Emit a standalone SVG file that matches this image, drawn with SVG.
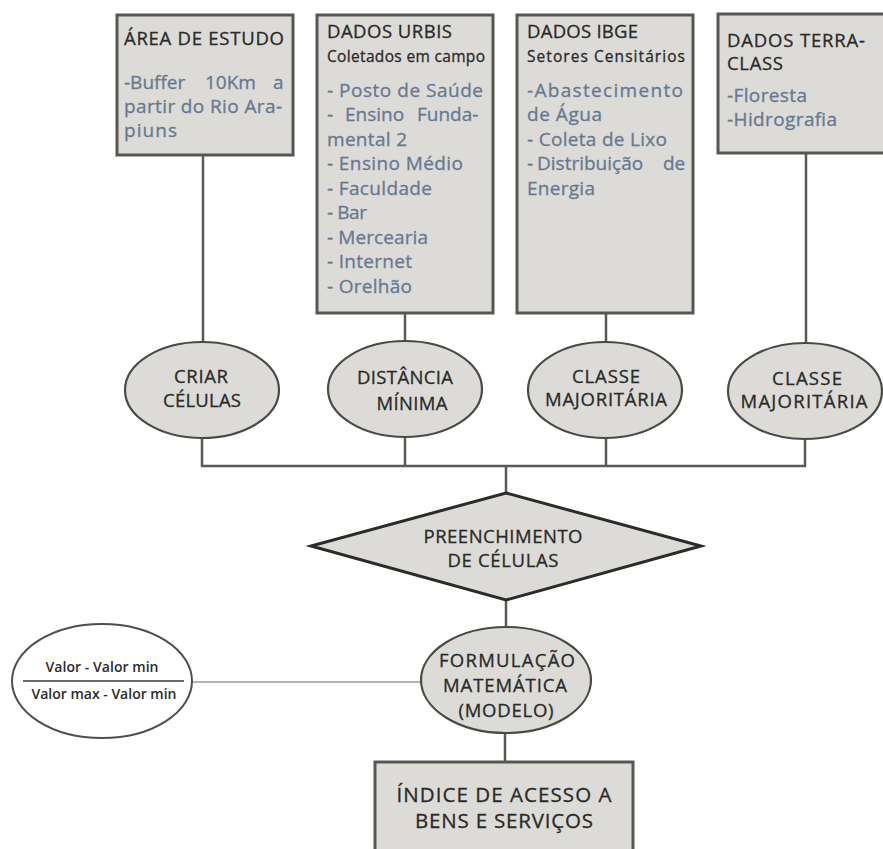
<svg xmlns="http://www.w3.org/2000/svg" width="883" height="849" viewBox="0 0 883 849">
<style>
.box{fill:#dcdbd7;stroke:#575752;stroke-width:3}
.ell{fill:#dcdbd7;stroke:#4a4a45;stroke-width:2.2}
.conn{stroke:#5a5a55;stroke-width:2.5;fill:none}
.thin{stroke:#9a9a98;stroke-width:1.5;fill:none}
.t{font-family:"Open Sans","Liberation Sans",sans-serif;fill:#2a2a28;stroke:#2a2a28;stroke-width:0.3}
.title{font-size:18.5px}
.sub{font-size:15.5px}
.item{font-size:19px;fill:#687891;stroke:#687891;stroke-width:0.3}
.node{font-size:18.5px}
.c{text-anchor:middle}
.frac{font-size:14px;font-weight:600;fill:#2a2a2a;stroke:none}
</style>
<rect width="883" height="849" fill="#ffffff"/>
<g id="connectors">
<path class="conn" d="M203 155V342"/>
<path class="conn" d="M405 313V341"/>
<path class="conn" d="M606 313V342"/>
<path class="conn" d="M806 153V343"/>
<path class="conn" d="M202 438V466H805V440"/>
<path class="conn" d="M405 437V466"/>
<path class="conn" d="M606 438V466"/>
<path class="conn" d="M506 466V493"/>
<path class="conn" d="M506 600V627"/>
<path class="conn" d="M505 733V762"/>
<path class="thin" d="M193 682H421"/>
</g>
<g id="area-estudo">
<rect class="box" x="117" y="15" width="176" height="140"/>
<text class="t title" x="124" y="45" textLength="160">ÁREA DE ESTUDO</text>
<text class="t item" y="89"><tspan x="124">-Buffer</tspan><tspan x="205">10Km</tspan><tspan x="273">a</tspan></text>
<text class="t item" x="124" y="113" textLength="158">partir do Rio Ara-</text>
<text class="t item" x="124" y="137" textLength="53">piuns</text>
</g>
<g id="dados-urbis">
<rect class="box" x="317" y="15" width="176" height="298"/>
<text class="t title" x="327" y="38" textLength="125">DADOS URBIS</text>
<text class="t sub" x="327" y="62" textLength="158">Coletados em campo</text>
<text class="t item" x="327" y="97" textLength="156">- Posto de Saúde</text>
<text class="t item" y="121"><tspan x="327">-</tspan><tspan x="345">Ensino</tspan><tspan x="417">Funda-</tspan></text>
<text class="t item" x="327" y="146" textLength="80">mental 2</text>
<text class="t item" x="327" y="170" textLength="136">- Ensino Médio</text>
<text class="t item" x="327" y="195" textLength="105">- Faculdade</text>
<text class="t item" x="327" y="219" textLength="40">- Bar</text>
<text class="t item" x="327" y="244" textLength="101">- Mercearia</text>
<text class="t item" x="327" y="268" textLength="85">- Internet</text>
<text class="t item" x="327" y="293" textLength="85">- Orelhão</text>
</g>
<g id="dados-ibge">
<rect class="box" x="517" y="15" width="176" height="298"/>
<text class="t title" x="527" y="38" textLength="111">DADOS IBGE</text>
<text class="t sub" x="527" y="62" textLength="158">Setores Censitários</text>
<text class="t item" x="527" y="97" textLength="156">-Abastecimento</text>
<text class="t item" x="527" y="121" textLength="75">de Água</text>
<text class="t item" x="527" y="146" textLength="140">- Coleta de Lixo</text>
<text class="t item" y="170"><tspan x="527">-</tspan><tspan x="537">Distribuição</tspan><tspan x="663">de</tspan></text>
<text class="t item" x="527" y="195" textLength="68">Energia</text>
</g>
<g id="dados-terraclass">
<rect class="box" x="718" y="14" width="180" height="139"/>
<text class="t title" x="727" y="47" textLength="138">DADOS TERRA-</text>
<text class="t title" x="727" y="70" textLength="56">CLASS</text>
<text class="t item" x="727" y="102" textLength="80">-Floresta</text>
<text class="t item" x="727" y="126" textLength="110">-Hidrografia</text>
</g>
<g id="criar-celulas">
<ellipse class="ell" cx="202" cy="390" rx="77" ry="48"/>
<text class="t node c" x="201" y="383" textLength="54">CRIAR</text>
<text class="t node c" x="202" y="407" textLength="78">CÉLULAS</text>
</g>
<g id="distancia-minima">
<ellipse class="ell" cx="405" cy="389" rx="77" ry="48"/>
<text class="t node c" x="405" y="384" textLength="96">DISTÂNCIA</text>
<text class="t node c" x="412" y="410" textLength="71">MÍNIMA</text>
</g>
<g id="classe-majoritaria-ibge">
<ellipse class="ell" cx="605" cy="390" rx="77" ry="48"/>
<text class="t node c" x="606" y="383" textLength="68">CLASSE</text>
<text class="t node c" x="606" y="406" textLength="122">MAJORITÁRIA</text>
</g>
<g id="classe-majoritaria-terraclass">
<ellipse class="ell" cx="805" cy="391" rx="77" ry="48"/>
<text class="t node c" x="807" y="385" textLength="70">CLASSE</text>
<text class="t node c" x="804" y="408" textLength="127">MAJORITÁRIA</text>
</g>
<g id="preenchimento">
<polygon points="506,493 701,546 506,600 311,546" fill="#dcdbd7" stroke="#2b2b27" stroke-width="3" stroke-linejoin="miter"/>
<text class="t node c" x="503" y="543" textLength="159">PREENCHIMENTO</text>
<text class="t node c" x="503" y="567" textLength="111">DE CÉLULAS</text>
</g>
<g id="formulacao">
<ellipse class="ell" cx="506" cy="680" rx="85" ry="53"/>
<text class="t node c" x="507" y="667" textLength="136">FORMULAÇÃO</text>
<text class="t node c" x="505" y="692" textLength="124">MATEMÁTICA</text>
<text class="t node c" x="506" y="717" textLength="95">(MODELO)</text>
</g>
<g id="formula">
<ellipse cx="102" cy="681" rx="90" ry="57" fill="#ffffff" stroke="#4f4f4a" stroke-width="2"/>
<line x1="23" y1="681" x2="184" y2="681" stroke="#3a3a38" stroke-width="1.5"/>
<text class="t frac c" x="102" y="672" textLength="113">Valor - Valor min</text>
<text class="t frac c" x="104" y="699" textLength="145">Valor max - Valor min</text>
</g>
<g id="indice">
<rect class="box" x="375" y="762" width="258" height="100"/>
<text class="t c" x="504" y="802" font-size="20.5" textLength="215">ÍNDICE DE ACESSO A</text>
<text class="t c" x="504" y="828" font-size="20.5" textLength="178">BENS E SERVIÇOS</text>
</g>
</svg>
